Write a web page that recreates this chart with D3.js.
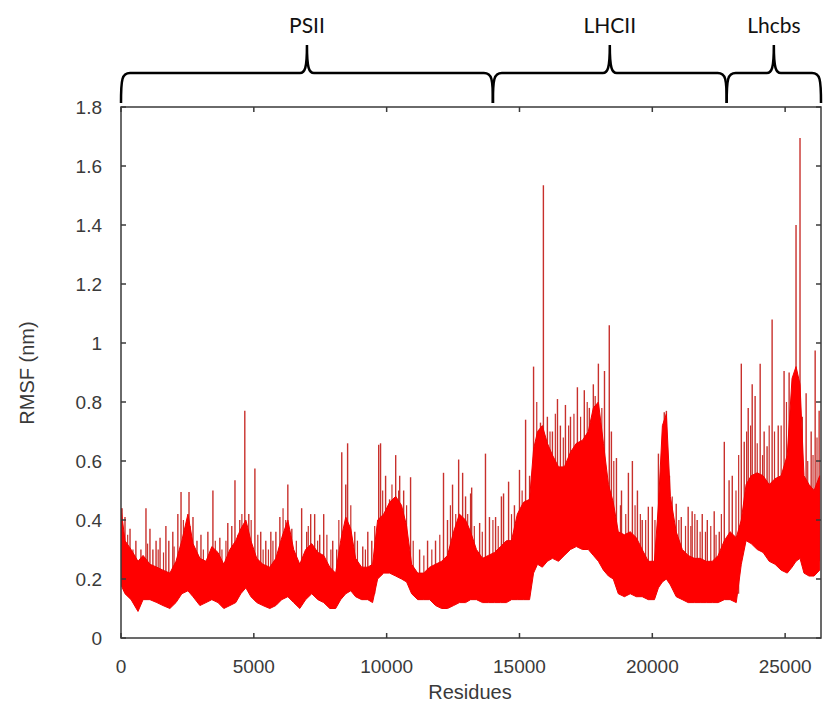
<!DOCTYPE html>
<html>
<head>
    <title>RMSF per residue</title>
    <script src="https://cdnjs.cloudflare.com/ajax/libs/d3/7.8.5/d3.min.js"></script>
    <style>
        body {
            margin: 0;
            background: white;
        }
        .tick-label {
            font-family: "Liberation Sans", Arial, sans-serif;
            font-size: 19px;
            fill: #3a3a3a;
        }
        .axis-title {
            font-family: "Liberation Sans", Arial, sans-serif;
            font-size: 20px;
            fill: #3a3a3a;
        }
        .group-label {
            font-family: Lato, "Open Sans", sans-serif;
            font-size: 21px;
            fill: #111;
        }
    </style>
</head>
<body>
    <div id="chart"></div>

    <script>
        // Body of the trace (dense part): residue, lower and upper edge in nm
        const bodyRes = [0, 150, 380, 640, 830, 1090, 1350, 1580, 1840, 2070, 2290, 2520, 2710, 2970, 3200, 3420, 3650, 3870, 4100, 4320,
            4510, 4700, 4890, 5110, 5340, 5600, 5830, 6050, 6280, 6500, 6730, 6950, 7180, 7410, 7630, 7860, 8080, 8270, 8460, 8650,
            8830, 9060, 9290, 9470, 9660, 9890, 10110, 10340, 10560, 10750, 10940, 11170, 11390, 11620, 11840, 12070, 12290, 12520, 12740, 12970,
            13160, 13380, 13610, 13830, 14060, 14290, 14510, 14700, 14920, 15150, 15380, 15530, 15680, 15860, 16050, 16240, 16470, 16690, 16920, 17140,
            17370, 17590, 17780, 17970, 18160, 18350, 18530, 18720, 18950, 19170, 19400, 19620, 19850, 20080, 20230, 20380, 20530, 20680, 20900, 21130,
            21350, 21580, 21800, 22030, 22260, 22480, 22710, 22930, 23160, 23350, 23530, 23720, 23950, 24170, 24400, 24620, 24850, 25080, 25260, 25410,
            25560, 25710, 25900, 26090, 26300];
        const bodyHigh = [0.44, 0.33, 0.30, 0.26, 0.28, 0.25, 0.24, 0.23, 0.22, 0.26, 0.33, 0.42, 0.32, 0.27, 0.26, 0.31, 0.29, 0.25, 0.30, 0.33,
            0.37, 0.40, 0.33, 0.27, 0.25, 0.24, 0.27, 0.34, 0.40, 0.30, 0.25, 0.30, 0.32, 0.29, 0.28, 0.24, 0.22, 0.33, 0.41, 0.37,
            0.27, 0.24, 0.24, 0.25, 0.40, 0.42, 0.46, 0.48, 0.45, 0.38, 0.25, 0.22, 0.22, 0.24, 0.25, 0.26, 0.28, 0.36, 0.42, 0.40,
            0.36, 0.30, 0.27, 0.28, 0.29, 0.31, 0.33, 0.33, 0.42, 0.46, 0.47, 0.64, 0.70, 0.72, 0.66, 0.62, 0.58, 0.58, 0.63, 0.66,
            0.67, 0.70, 0.78, 0.80, 0.66, 0.52, 0.46, 0.36, 0.35, 0.36, 0.34, 0.30, 0.26, 0.26, 0.45, 0.72, 0.76, 0.48, 0.36, 0.30,
            0.28, 0.27, 0.27, 0.26, 0.26, 0.28, 0.33, 0.36, 0.34, 0.40, 0.52, 0.55, 0.56, 0.55, 0.52, 0.54, 0.55, 0.62, 0.88, 0.92,
            0.86, 0.55, 0.52, 0.50, 0.55];
        const bodyLow = [0.18, 0.15, 0.13, 0.09, 0.13, 0.13, 0.12, 0.11, 0.10, 0.12, 0.15, 0.16, 0.14, 0.11, 0.12, 0.13, 0.12, 0.10, 0.11, 0.12,
            0.15, 0.17, 0.14, 0.12, 0.11, 0.10, 0.11, 0.13, 0.14, 0.12, 0.10, 0.13, 0.15, 0.13, 0.12, 0.10, 0.10, 0.13, 0.15, 0.16,
            0.14, 0.13, 0.13, 0.12, 0.20, 0.22, 0.22, 0.21, 0.20, 0.19, 0.15, 0.13, 0.13, 0.13, 0.11, 0.10, 0.10, 0.11, 0.12, 0.12,
            0.13, 0.13, 0.12, 0.12, 0.12, 0.12, 0.12, 0.13, 0.13, 0.13, 0.13, 0.22, 0.25, 0.24, 0.26, 0.27, 0.26, 0.28, 0.30, 0.31,
            0.30, 0.30, 0.28, 0.26, 0.23, 0.21, 0.20, 0.15, 0.14, 0.15, 0.14, 0.14, 0.13, 0.13, 0.17, 0.19, 0.20, 0.18, 0.14, 0.13,
            0.12, 0.12, 0.12, 0.12, 0.12, 0.12, 0.13, 0.13, 0.12, 0.25, 0.33, 0.32, 0.30, 0.29, 0.26, 0.25, 0.23, 0.22, 0.24, 0.26,
            0.27, 0.22, 0.21, 0.21, 0.23];

        // Tall isolated peaks: residue and RMSF (nm)
        const spikeRes = [40, 150, 340, 560, 750, 940, 1090, 1200, 1320, 1470, 1690, 1800, 1950, 2140, 2260, 2440, 2560, 2710, 2860, 3010,
            3270, 3460, 3720, 4020, 4170, 4290, 4470, 4660, 4810, 5040, 5260, 5450, 5640, 5830, 5980, 6280, 6430, 6800, 6990, 7140,
            7290, 7480, 7630, 7970, 8120, 8310, 8460, 8530, 8800, 9100, 9290, 9440, 9700, 9770, 9960, 10110, 10340, 10490, 10640, 10900,
            11240, 11540, 11840, 12140, 12290, 12480, 12710, 12860, 12970, 13160, 13200, 13500, 13720, 13870, 14100, 14320, 14400, 14590, 14810, 15000,
            15230, 15380, 15530, 15790, 15900, 16050, 16240, 16430, 16540, 16730, 16920, 17180, 17440, 17630, 17780, 17970, 18200, 18380, 18460, 18650,
            18840, 19100, 19250, 19440, 19620, 19850, 20000, 20230, 20450, 20530, 20900, 21090, 21350, 21500, 21690, 21880, 22070, 22330, 22520, 22710,
            22890, 23010, 23350, 23460, 23610, 23760, 23870, 24060, 24210, 24320, 24510, 24740, 24960, 25150, 25300, 25410, 25560, 25790, 25980, 26130,
            26280];
        const spikeVal = [0.44, 0.41, 0.37, 0.33, 0.30, 0.44, 0.37, 0.30, 0.33, 0.34, 0.38, 0.33, 0.36, 0.42, 0.495, 0.36, 0.495, 0.41, 0.33, 0.35,
            0.36, 0.50, 0.34, 0.39, 0.38, 0.535, 0.40, 0.77, 0.42, 0.575, 0.36, 0.33, 0.36, 0.36, 0.41, 0.52, 0.37, 0.44, 0.36, 0.42,
            0.42, 0.35, 0.42, 0.33, 0.30, 0.63, 0.52, 0.66, 0.36, 0.31, 0.36, 0.33, 0.655, 0.66, 0.55, 0.47, 0.62, 0.55, 0.50, 0.545,
            0.30, 0.33, 0.33, 0.56, 0.40, 0.52, 0.605, 0.56, 0.48, 0.49, 0.51, 0.39, 0.625, 0.41, 0.41, 0.48, 0.49, 0.53, 0.45, 0.57,
            0.74, 0.55, 0.92, 0.73, 1.535, 0.75, 0.70, 0.81, 0.72, 0.79, 0.75, 0.85, 0.84, 0.78, 0.86, 0.93, 0.905, 1.06, 0.70, 0.61,
            0.50, 0.56, 0.60, 0.50, 0.40, 0.445, 0.445, 0.625, 0.765, 0.77, 0.455, 0.41, 0.445, 0.43, 0.40, 0.42, 0.40, 0.43, 0.36, 0.665,
            0.535, 0.55, 0.93, 0.665, 0.78, 0.86, 0.82, 0.93, 0.70, 0.65, 1.08, 0.72, 0.905, 0.90, 0.80, 1.40, 1.695, 0.83, 0.70, 0.975,
            0.77];

        // Smaller peaks that make the ragged top of the body
        const minorRes = [250, 450, 1000, 1400, 1600, 2000, 2350, 2600, 3100, 3550, 3800, 3950, 4400, 4550, 4900, 5150, 5350, 5550, 5720, 6100,
            6200, 6600, 7050, 7400, 7750, 7900, 8200, 8650, 8900, 9200, 9550, 9850, 10200, 10450, 10750, 11000, 11400, 11700, 12000, 12400,
            12600, 13050, 13300, 13600, 14000, 14200, 14700, 15100, 15650, 16150, 16350, 16650, 16850, 17050, 17300, 17550, 17850, 18100, 18550, 18800,
            19000, 19350, 19550, 19750, 20100, 20650, 20750, 21000, 21250, 21450, 21600, 21800, 22000, 22200, 22400, 22600, 23150, 23250, 23550, 23700,
            23950, 24150, 24400, 24600, 24850, 25050, 25650, 25850, 26050, 26200];
        const minorVal = [0.35, 0.30, 0.32, 0.30, 0.29, 0.31, 0.40, 0.38, 0.30, 0.33, 0.30, 0.33, 0.35, 0.42, 0.40, 0.35, 0.30, 0.30, 0.33, 0.44,
            0.40, 0.33, 0.38, 0.33, 0.35, 0.30, 0.40, 0.45, 0.33, 0.30, 0.38, 0.50, 0.52, 0.50, 0.45, 0.33, 0.28, 0.30, 0.35, 0.45,
            0.42, 0.42, 0.38, 0.36, 0.40, 0.38, 0.42, 0.50, 0.80, 0.70, 0.76, 0.68, 0.72, 0.76, 0.75, 0.80, 0.82, 0.78, 0.60, 0.45,
            0.42, 0.45, 0.42, 0.40, 0.40, 0.55, 0.48, 0.40, 0.38, 0.38, 0.42, 0.36, 0.36, 0.38, 0.35, 0.42, 0.50, 0.62, 0.70, 0.72,
            0.66, 0.62, 0.72, 0.70, 0.72, 0.80, 0.75, 0.60, 0.62, 0.68];

        // Axis ticks
        const xTicks = [0, 5000, 10000, 15000, 20000, 25000];
        const yTicks = [0, 0.2, 0.4, 0.6, 0.8, 1, 1.2, 1.4, 1.6, 1.8];

        // Protein groups shown with braces above the plot
        const groupNames = ["PSII", "LHCII", "Lhcbs"];
        const groupStart = [0, 14000, 22800];
        const groupEnd = [14000, 22800, 26350];

        const width = 823;
        const height = 711;
        const margin = { top: 107, right: 2, bottom: 73, left: 121 };
        const innerW = width - margin.left - margin.right;
        const innerH = height - margin.top - margin.bottom;

        const svg = d3.select("#chart")
            .append("svg")
            .attr("width", width)
            .attr("height", height);

        const x = d3.scaleLinear().domain([0, 26350]).range([margin.left, margin.left + innerW]);
        const y = d3.scaleLinear().domain([0, 1.8]).range([margin.top + innerH, margin.top]);

        const body = bodyRes.map((r, i) => ({ r: r, lo: bodyLow[i], hi: bodyHigh[i] }));

        svg.append("defs").append("clipPath").attr("id", "plot-clip")
            .append("rect")
            .attr("x", margin.left).attr("y", margin.top)
            .attr("width", innerW).attr("height", innerH);

        const plot = svg.append("g").attr("clip-path", "url(#plot-clip)");

        // Spikes go first so the solid body sits over their feet
        const bisect = d3.bisector(d => d.r).center;
        function drawSpikes(res, vals, w) {
            plot.append("g")
                .selectAll("line")
                .data(res.map((r, i) => ({ r: r, v: vals[i] })))
                .enter()
                .append("line")
                .attr("x1", d => x(d.r))
                .attr("x2", d => x(d.r))
                .attr("y1", d => y(body[bisect(body, d.r)].lo + 0.03))
                .attr("y2", d => y(d.v))
                .attr("stroke", "#c8302c")
                .attr("stroke-width", w);
        }
        drawSpikes(minorRes, minorVal, 1.2);
        drawSpikes(spikeRes, spikeVal, 1.4);

        // Dense body of the trace
        const area = d3.area()
            .x(d => x(d.r))
            .y0(d => y(d.lo))
            .y1(d => y(d.hi));

        plot.append("path")
            .datum(body)
            .attr("d", area)
            .attr("fill", "#ff0000")
            .attr("stroke", "#f20000")
            .attr("stroke-width", 1);

        // Frame with inward ticks on all four sides
        const frame = svg.append("g");
        frame.append("rect")
            .attr("x", margin.left).attr("y", margin.top)
            .attr("width", innerW).attr("height", innerH)
            .attr("fill", "none")
            .attr("stroke", "#3a3a3a")
            .attr("stroke-width", 1.5);

        const tickLen = 5;
        xTicks.forEach(t => {
            frame.append("line")
                .attr("x1", x(t)).attr("x2", x(t))
                .attr("y1", y(0)).attr("y2", y(0) - tickLen)
                .attr("stroke", "#3a3a3a").attr("stroke-width", 1.5);
            frame.append("line")
                .attr("x1", x(t)).attr("x2", x(t))
                .attr("y1", y(1.8)).attr("y2", y(1.8) + tickLen)
                .attr("stroke", "#3a3a3a").attr("stroke-width", 1.5);
            frame.append("text")
                .attr("class", "tick-label")
                .attr("x", x(t))
                .attr("y", y(0) + 35)
                .attr("text-anchor", "middle")
                .text(t);
        });

        yTicks.forEach(t => {
            frame.append("line")
                .attr("x1", x(0)).attr("x2", x(0) + tickLen)
                .attr("y1", y(t)).attr("y2", y(t))
                .attr("stroke", "#3a3a3a").attr("stroke-width", 1.5);
            frame.append("line")
                .attr("x1", x(26350)).attr("x2", x(26350) - tickLen)
                .attr("y1", y(t)).attr("y2", y(t))
                .attr("stroke", "#3a3a3a").attr("stroke-width", 1.5);
            frame.append("text")
                .attr("class", "tick-label")
                .attr("x", 102)
                .attr("y", y(t) + 7)
                .attr("text-anchor", "end")
                .text(d3.format("~g")(t));
        });

        // Axis titles
        svg.append("text")
            .attr("class", "axis-title")
            .attr("x", 470)
            .attr("y", 699)
            .attr("text-anchor", "middle")
            .text("Residues");

        svg.append("text")
            .attr("class", "axis-title")
            .attr("transform", "translate(34," + 373 + ") rotate(-90)")
            .attr("text-anchor", "middle")
            .text("RMSF (nm)");

        // Curly braces over each group
        const yBottom = 103, yLine = 73, yTip = 45;
        function bracePath(x0, x1) {
            const mid = (x0 + x1) / 2;
            return `M${x0},${yBottom}` +
                `C${x0},${yLine + 6} ${x0 + 1},${yLine} ${x0 + 9},${yLine}` +
                `L${mid - 7},${yLine}` +
                `C${mid - 2},${yLine} ${mid},${yLine - 5} ${mid},${yTip}` +
                `M${mid},${yTip}` +
                `C${mid},${yLine - 5} ${mid + 2},${yLine} ${mid + 7},${yLine}` +
                `L${x1 - 9},${yLine}` +
                `C${x1 - 1},${yLine} ${x1},${yLine + 6} ${x1},${yBottom}`;
        }

        const groups = svg.append("g");
        groupNames.forEach((name, i) => {
            const x0 = x(groupStart[i]);
            const x1 = x(groupEnd[i]);
            groups.append("path")
                .attr("d", bracePath(x0, x1))
                .attr("fill", "none")
                .attr("stroke", "#000")
                .attr("stroke-width", 2.5);
            groups.append("text")
                .attr("class", "group-label")
                .attr("x", (x0 + x1) / 2)
                .attr("y", 33)
                .attr("text-anchor", "middle")
                .text(name);
        });
    </script>
</body>
</html>
